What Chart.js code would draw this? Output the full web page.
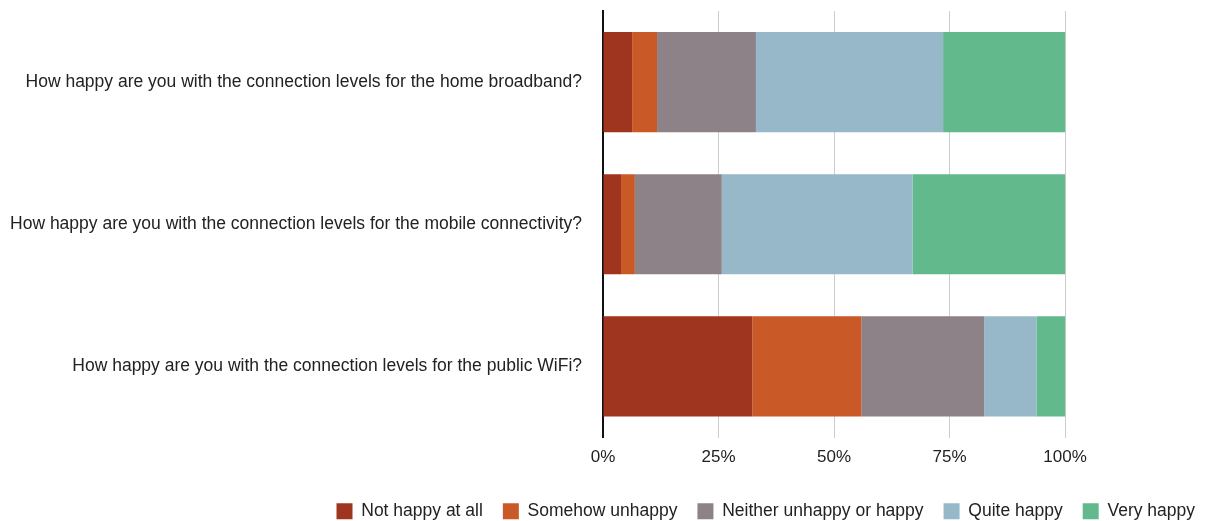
<!DOCTYPE html>
<html>
<head>
<meta charset="utf-8">
<script src="https://cdn.jsdelivr.net/npm/chart.js@4"></script>
<style>
  html, body { margin: 0; padding: 0; background: #fff; }
  #wrap { width: 1206px; height: 521px; }
</style>
</head>
<body>
<div id="wrap"><canvas id="myChart"></canvas></div>
<script>
const questions = [
  'How happy are you with the connection levels for the home broadband?',
  'How happy are you with the connection levels for the mobile connectivity?',
  'How happy are you with the connection levels for the public WiFi?',
];

const notHappy = [6.3, 3.9, 32.3];
const somehowUnhappy = [5.4, 3.0, 23.6];
const neither = [21.4, 18.8, 26.6];
const quiteHappy = [40.5, 41.3, 11.3];
const veryHappy = [26.4, 33.0, 6.2];

const tickValues = [0, 25, 50, 75, 100];

const family = "'Liberation Sans', Arial, sans-serif";

// x scale runs past 100 so the legend can sit at the far right; ticks/grid above 100 are hidden
const xMax = 130.5;

const data = {
  labels: questions,
  datasets: [
    { label: 'Not happy at all', data: notHappy, backgroundColor: '#a0351f' },
    { label: 'Somehow unhappy', data: somehowUnhappy, backgroundColor: '#c95a27' },
    { label: 'Neither unhappy or happy', data: neither, backgroundColor: '#8c8287' },
    { label: 'Quite happy', data: quiteHappy, backgroundColor: '#96b8c8' },
    { label: 'Very happy', data: veryHappy, backgroundColor: '#61b98c' },
  ]
};

const config = {
  type: 'bar',
  data: data,
  options: {
    indexAxis: 'y',
    responsive: true,
    maintainAspectRatio: false,
    animation: false,
    layout: { padding: { top: 11, right: -9, left: 0, bottom: -9 } },
    datasets: {
      bar: { categoryPercentage: 0.705, barPercentage: 1, borderWidth: 0 }
    },
    scales: {
      x: {
        stacked: true,
        min: 0,
        max: xMax,
        afterBuildTicks: (scale) => {
          scale.ticks = tickValues.map(v => ({ value: v }));
        },
        afterFit: (scale) => { scale.height = 45; },
        ticks: {
          font: { family: family, size: 17 },
          color: '#222',
          padding: 10,
          callback: (v) => v + '%'
        },
        grid: {
          drawTicks: false,
          color: (ctx) => (ctx.tick && ctx.tick.value > 0 && ctx.tick.value <= 100) ? '#cccccc' : 'rgba(0,0,0,0)',
          lineWidth: 1
        },
        border: { display: false }
      },
      y: {
        stacked: true,
        afterFit: (scale) => { scale.width = 603; },
        ticks: { font: { family: family, size: 17.5 }, color: '#222', padding: 0 },
        grid: { display: false, drawTicks: true, tickLength: 21 },
        border: { display: true, color: '#111', width: 2 }
      }
    },
    plugins: {
      legend: {
        position: 'bottom',
        align: 'end',
        labels: {
          font: { family: family, size: 17.5 },
          color: '#222',
          boxWidth: 16,
          boxHeight: 16,
          padding: 20
        }
      },
      tooltip: { enabled: false }
    }
  }
};

const myChart = new Chart(document.getElementById('myChart'), config);
</script>
</body>
</html>
